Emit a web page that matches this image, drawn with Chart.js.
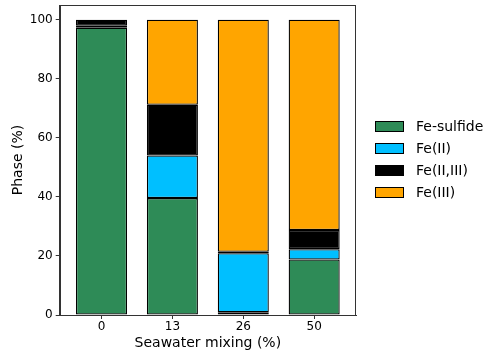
<!DOCTYPE html>
<html lang=en>
<head>
    <meta charset="UTF-8" />
    <title>Phase vs seawater mixing</title>
    <script src="https://cdn.jsdelivr.net/npm/chart.js@4.4.1/dist/chart.umd.min.js"></script>
    <style>
        body { margin: 0; background: white; }
        #box { position: relative; width: 500px; height: 350px; }
        #legend {
            position: absolute; left: 375px; top: 115px;
            font: 14px 'DejaVu Sans', sans-serif; color: #000;
        }
        .item { height: 22px; display: flex; align-items: center; white-space: nowrap; }
        .swatch { width: 27px; height: 9px; border: 1px solid #000; margin-right: 12px; }
    </style>
</head>
<body>
    <div id="box">
        <canvas id="myChart"></canvas>
        <div id="legend"></div>
    </div>
    <script>
        // data
        var mixing = ['0', '13', '26', '50'];
        var feSulfide = [97.3, 39.6, 0.9, 18.8];
        var fe2 = [0.7, 14.4, 20.0, 3.5];
        var fe23 = [2.0, 17.2, 0.5, 6.5];
        var fe3 = [0.0, 28.8, 78.6, 71.2];
        var yTicks = [0, 20, 40, 60, 80, 100];

        var axisColor = '#333';
        var font = "'DejaVu Sans', sans-serif";

        function points(vals) {
            return vals.map(function (v, i) { return { x: i, y: v }; });
        }

        function ds(label, vals, color) {
            return {
                label: label,
                data: points(vals),
                backgroundColor: color,
                borderColor: '#000',
                borderWidth: 1.3,
                borderSkipped: false,
                barPercentage: 0.72,
                categoryPercentage: 1.0
            };
        }

        // box around the plot area (top and right sides)
        var frame = {
            id: 'frame',
            afterDraw: function (chart) {
                var a = chart.chartArea, c = chart.ctx;
                c.save();
                c.strokeStyle = axisColor;
                c.lineWidth = 1;
                c.strokeRect(Math.round(a.left) + 0.5, Math.round(a.top) + 0.5,
                    Math.round(a.right - a.left) - 1, Math.round(a.bottom - a.top));
                c.restore();
            }
        };

        var chart = new Chart(document.getElementById('myChart'), {
            type: 'bar',
            data: {
                datasets: [
                    ds('Fe-sulfide', feSulfide, '#2E8B57'),
                    ds('Fe(II)', fe2, '#00BFFF'),
                    ds('Fe(II,III)', fe23, '#000000'),
                    ds('Fe(III)', fe3, '#FFA500')
                ]
            },
            options: {
                responsive: true,
                maintainAspectRatio: false,
                animation: false,
                layout: { padding: { top: 5, right: 144, left: 10, bottom: 0 } },
                plugins: {
                    tooltip: { enabled: false },
                    legend: { display: false }
                },
                scales: {
                    x: {
                        type: 'linear',
                        stacked: true,
                        offset: false,
                        min: -0.59,
                        max: 3.59,
                        afterBuildTicks: function (axis) {
                            axis.ticks = mixing.map(function (m, i) { return { value: i }; });
                        },
                        grid: { offset: false, drawOnChartArea: false, drawTicks: true, tickLength: 4, tickColor: axisColor },
                        border: { color: axisColor },
                        ticks: {
                            color: '#000',
                            font: { family: font, size: 12, lineHeight: 1.0 },
                            padding: 2,
                            callback: function (v) { return mixing[v]; }
                        },
                        title: {
                            display: true,
                            text: 'Seawater mixing (%)',
                            color: '#000',
                            font: { family: font, size: 14, lineHeight: 1.0 },
                            padding: { top: 1, bottom: 0 }
                        }
                    },
                    y: {
                        stacked: true,
                        min: 0,
                        max: 105,
                        afterBuildTicks: function (axis) {
                            axis.ticks = yTicks.map(function (v) { return { value: v }; });
                        },
                        afterFit: function (axis) {
                            // top tick sits below the top edge, no room needed for it
                            axis.paddingTop = 0;
                        },
                        grid: { drawOnChartArea: false, drawTicks: true, tickLength: 4, tickColor: axisColor },
                        border: { color: axisColor },
                        ticks: {
                            color: '#000',
                            font: { family: font, size: 12 },
                            padding: 3
                        },
                        title: {
                            display: true,
                            text: 'Phase (%)',
                            color: '#000',
                            font: { family: font, size: 14 },
                            padding: { top: 0, bottom: 0 }
                        }
                    }
                }
            },
            plugins: [frame]
        });

        // legend as html, same order as the datasets
        var legend = document.getElementById('legend');
        chart.data.datasets.forEach(function (d) {
            var row = document.createElement('div');
            row.className = 'item';
            var sw = document.createElement('span');
            sw.className = 'swatch';
            sw.style.background = d.backgroundColor;
            var txt = document.createElement('span');
            txt.textContent = d.label;
            row.appendChild(sw);
            row.appendChild(txt);
            legend.appendChild(row);
        });
    </script>
</body>
</html>
